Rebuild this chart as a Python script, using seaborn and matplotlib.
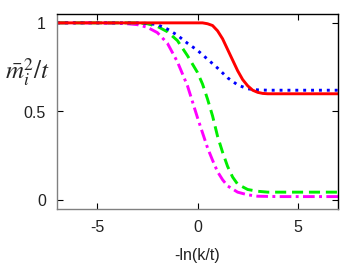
import numpy as np
import pandas as pd
import matplotlib
matplotlib.use("Agg")
import matplotlib.pyplot as plt
import seaborn as sns

# x positions (-ln(k/t)) at which values were read
x_red = [-7, -5, -3, -1, 0, 0.25, 0.5, 0.75, 1.0, 1.25, 1.5, 1.75, 2.0, 2.25, 2.5, 2.75, 3.0, 3.25, 3.5, 4, 5, 6, 7]
y_red = [1.0, 1.0, 1.0, 1.0, 1.0, 1.0, 0.995, 0.985, 0.955, 0.91, 0.85, 0.79, 0.73, 0.68, 0.645, 0.62, 0.608, 0.602, 0.60, 0.60, 0.60, 0.60, 0.60]

x_blue = [-7, -5, -3, -2.5, -2, -1.5, -1, -0.5, 0, 0.5, 1.0, 1.5, 2.0, 2.5, 3.0, 3.5, 4, 5, 6, 7]
y_blue = [1.0, 1.0, 1.0, 0.997, 0.99, 0.965, 0.93, 0.885, 0.845, 0.795, 0.745, 0.69, 0.65, 0.628, 0.622, 0.62, 0.62, 0.62, 0.62, 0.62]

x_green = [-7, -5, -3, -2.5, -2, -1.5, -1, -0.5, 0, 0.25, 0.5, 0.75, 1.0, 1.25, 1.5, 1.75, 2.0, 2.5, 3.0, 3.5, 4, 5, 6, 7]
y_green = [1.0, 1.0, 1.0, 0.995, 0.98, 0.95, 0.9, 0.815, 0.72, 0.655, 0.57, 0.475, 0.36, 0.27, 0.19, 0.13, 0.09, 0.06, 0.05, 0.045, 0.045, 0.045, 0.045, 0.045]

x_mag = [-7, -5, -4, -3.5, -3, -2.5, -2, -1.5, -1, -0.5, -0.25, 0, 0.25, 0.5, 0.75, 1.0, 1.25, 1.5, 2.0, 2.5, 3.0, 4, 5, 6, 7]
y_mag = [1.0, 1.0, 0.998, 0.995, 0.99, 0.975, 0.945, 0.885, 0.78, 0.645, 0.555, 0.465, 0.38, 0.295, 0.225, 0.16, 0.115, 0.08, 0.045, 0.03, 0.022, 0.02, 0.02, 0.02, 0.02]

x_ticks = [-5, 0, 5]
y_ticks = [0, 0.5, 1]
y_tick_labels = ["0", "0.5", "1"]

sns.set_style("white")
plt.rcParams['font.family'] = ['Liberation Sans', 'DejaVu Sans']
plt.rcParams['mathtext.fontset'] = 'stix'

fig = plt.figure(figsize=(3.54, 2.75), dpi=100)
ax = fig.add_axes([57/354, 1 - 209/275, (338 - 57)/354, (209 - 14)/275])

lw = 2.1
sns.lineplot(x=x_mag, y=y_mag, ax=ax, color="#ff00ff", lw=lw)
ax.lines[-1].set_dashes([4, 1.5, 1, 1.5])
sns.lineplot(x=x_green, y=y_green, ax=ax, color="#00ee00", lw=lw)
ax.lines[-1].set_dashes([3.8, 2])
sns.lineplot(x=x_blue, y=y_blue, ax=ax, color="#0000ff", lw=lw)
ax.lines[-1].set_dashes([1, 1.7])
sns.lineplot(x=x_red, y=y_red, ax=ax, color="#ff0000", lw=lw)

ax.set_xlim(-7, 7)
ax.set_ylim(-0.05, 1.05)
ax.set_xticks(x_ticks)
ax.set_xticklabels([str(t) for t in x_ticks])
ax.set_yticks(y_ticks)
ax.set_yticklabels(y_tick_labels)
ax.tick_params(direction='in', length=4, width=0.8, labelsize=11.5, colors='black',
               labelcolor='#222222',
               top=True, right=True, bottom=True, left=True, pad=8)
ax.tick_params(axis='y', pad=8)

for s in ['left', 'bottom']:
    ax.spines[s].set_color('#808080')
    ax.spines[s].set_linewidth(1.0)
for s in ['top', 'right']:
    ax.spines[s].set_color('black')
    ax.spines[s].set_linewidth(1.0)

ax.set_xlabel("-ln(k/t)", fontsize=11.5, labelpad=9, color='#222222')
ax.set_ylabel("")
fig.text(27/354, 1 - 72/275, r"$\bar{m}_i^2/t$", fontsize=18, ha='center', va='center')

fig.savefig("out.png", dpi=100)
